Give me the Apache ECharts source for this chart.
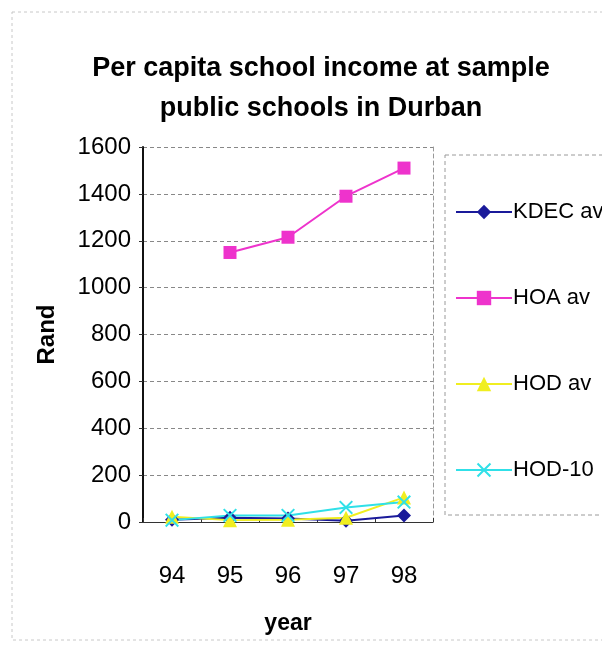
<!DOCTYPE html>
<html>
<head>
<meta charset="utf-8">
<script src="https://cdn.jsdelivr.net/npm/echarts@6/dist/echarts.min.js"></script>
<style>
  html, body { margin: 0; padding: 0; background: #fff; }
  #chart { width: 602px; height: 650px; }
</style>
</head>
<body>
<div id="chart"></div>
<script>
// Per capita school income (Rand) by year
const years = ['94', '95', '96', '97', '98'];
const kdecAv = [10, 18, 15, 5, 28];
const hoaAv = [null, 1150, 1215, 1390, 1510];
const hodAv = [22, 8, 10, 18, 105];
const hod10 = [8, 28, 28, 62, 85];
const yTicks = [0, 200, 400, 600, 800, 1000, 1200, 1400, 1600];

const FONT = '"Liberation Sans", Arial, sans-serif';
const crossPath = 'path://M0,1 L1,0 L5,4 L9,0 L10,1 L6,5 L10,9 L9,10 L5,6 L1,10 L0,9 L4,5 Z';

function series(name, data, color, symbol, size) {
  return {
    name: name,
    type: 'line',
    data: data,
    symbol: symbol,
    symbolSize: size,
    connectNulls: false,
    lineStyle: { color: color, width: 2 },
    itemStyle: { color: color },
    emphasis: { disabled: true }
  };
}

const chart = echarts.init(document.getElementById('chart'), null, { renderer: 'canvas' });
chart.setOption({
  animation: false,
  backgroundColor: '#ffffff',
  title: {
    text: 'Per capita school income at sample\npublic schools in Durban',
    left: 316,
    textAlign: 'center',
    top: 44,
    textStyle: {
      fontFamily: FONT, fontWeight: 'bold', fontSize: 27, lineHeight: 40, color: '#000'
    }
  },
  graphic: [
    {
      type: 'rect', silent: true,
      shape: { x: 12, y: 12, width: 600, height: 628 },
      style: { fill: 'none', stroke: '#c8c8c8', lineWidth: 1, lineDash: [3, 3] }
    },
    {
      type: 'rect', silent: true,
      shape: { x: 445, y: 155, width: 170, height: 360 },
      style: { fill: 'none', stroke: '#9a9a9a', lineWidth: 1, lineDash: [4, 3] }
    }
  ],
  legend: {
    orient: 'vertical',
    left: 450,
    top: 196,
    itemWidth: 56,
    itemHeight: 18,
    itemGap: 64,
    textStyle: { fontFamily: FONT, fontSize: 22, color: '#000', padding: [0, 0, 0, -4] },
    data: ['KDEC av', 'HOA av', 'HOD av', 'HOD-10']
  },
  grid: {
    left: 143, top: 147, width: 290, height: 375,
    show: true, borderColor: '#999', borderWidth: 0
  },
  xAxis: {
    type: 'category',
    data: years,
    name: 'year',
    nameLocation: 'middle',
    nameGap: 90,
    nameTextStyle: { fontFamily: FONT, fontWeight: 'bold', fontSize: 23, color: '#000' },
    axisLine: { lineStyle: { color: '#333', width: 1 } },
    axisTick: { show: true, inside: true, length: 4, lineStyle: { color: '#333' } },
    axisLabel: { fontFamily: FONT, fontSize: 24, color: '#000', margin: 42 },
    splitLine: { show: false }
  },
  yAxis: [
    {
      type: 'value',
      min: 0, max: 1600, interval: 200,
      name: 'Rand',
      nameLocation: 'middle',
      nameGap: 84,
      nameRotate: 90,
      nameTextStyle: { fontFamily: FONT, fontWeight: 'bold', fontSize: 24, color: '#000' },
      axisLine: { show: true, lineStyle: { color: '#111', width: 2 } },
      axisTick: { show: true, length: 4, lineStyle: { color: '#333' } },
      axisLabel: {
        fontFamily: FONT, fontSize: 24, color: '#000', margin: 12,
        formatter: function (v) { return yTicks.indexOf(v) >= 0 ? String(v) : ''; }
      },
      splitLine: { show: true, lineStyle: { color: '#888', type: [4, 3], width: 1 } }
    },
    {
      // dashed right edge of the plot frame
      type: 'value',
      position: 'right',
      min: 0, max: 1600, interval: 200,
      axisLine: { show: true, lineStyle: { color: '#999', type: [4, 3], width: 1 } },
      axisTick: { show: false },
      axisLabel: { show: false },
      splitLine: { show: false }
    }
  ],
  series: [
    series('KDEC av', kdecAv, '#1a1a9a', 'diamond', 14),
    series('HOA av', hoaAv, '#ee33cc', 'rect', 13),
    series('HOD av', hodAv, '#f0ee20', 'triangle', 14),
    series('HOD-10', hod10, '#30e0e8', crossPath, 14)
  ]
});
</script>
</body>
</html>
